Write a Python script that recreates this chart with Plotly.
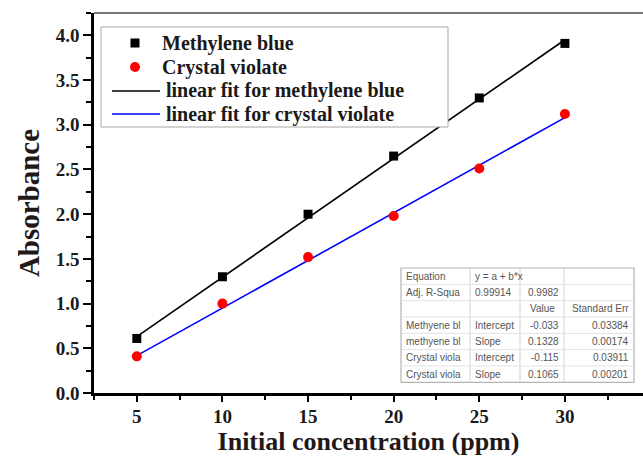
import plotly.graph_objects as go

# Initial dye concentration (ppm)
concentration = [5, 10, 15, 20, 25, 30]

# Measured absorbance
methylene_blue = [0.61, 1.30, 2.00, 2.65, 3.30, 3.91]
crystal_violate = [0.41, 1.00, 1.52, 1.98, 2.51, 3.12]

# Linear fit parameters (y = a + b*x)
mb_intercept, mb_slope = -0.033, 0.1328
cv_intercept, cv_slope = -0.115, 0.1065

# Legend entries
legend_names = ["Methylene blue", "Crystal violate",
                "linear fit for methylene blue", "linear fit for crystal violate"]

# Fit statistics table, one list per column
col_label = ["Equation", "Adj. R-Squa", "", "Methyene bl", "methyene bl", "Crystal viola", "Crystal viola"]
col_param = ["y = a + b*x", "0.99914", "", "Intercept", "Slope", "Intercept", "Slope"]
col_value = ["", "0.9982", "Value", "-0.033", "0.1328", "-0.115", "0.1065"]
col_error = ["", "", "Standard Err", "0.03384", "0.00174", "0.03911", "0.00201"]

fit_x = [concentration[0], concentration[-1]]
mb_fit = [mb_intercept + mb_slope * x for x in fit_x]
cv_fit = [cv_intercept + cv_slope * x for x in fit_x]

serif = "Liberation Serif"
MB_COLOR, CV_COLOR, CV_LINE = "black", "#ff0000", "#0000ff"

fig = go.Figure()
fig.add_trace(go.Scatter(
    x=fit_x, y=mb_fit, mode="lines", name=legend_names[2],
    line=dict(color=MB_COLOR, width=1.6)))
fig.add_trace(go.Scatter(
    x=fit_x, y=cv_fit, mode="lines", name=legend_names[3],
    line=dict(color=CV_LINE, width=1.6)))
fig.add_trace(go.Scatter(
    x=concentration, y=methylene_blue, mode="markers", name=legend_names[0],
    marker=dict(symbol="square", size=9, color=MB_COLOR)))
fig.add_trace(go.Scatter(
    x=concentration, y=crystal_violate, mode="markers", name=legend_names[1],
    marker=dict(symbol="circle", size=10, color=CV_COLOR)))

# --- helpers: pixel position inside the plot area -> paper coordinates ---
plot_left, plot_right, plot_top, plot_bottom = 94, 643, 13, 393
def px_x(p):
    return (p - plot_left) / (plot_right - plot_left)
def px_y(p):
    return (plot_bottom - p) / (plot_bottom - plot_top)

def paper_shape(**kw):
    return dict(xref="paper", yref="paper", **kw)

# Top frame line
shapes = [paper_shape(type="line", x0=0, x1=1, y0=1, y1=1,
                      line=dict(color="#4a4a4a", width=1.5))]
annotations = []

# --- legend box ---
legend_box = (101, 448, 27, 127)
legend_rows = [43, 67, 91, 114]
shapes.append(paper_shape(type="rect", x0=px_x(legend_box[0]), x1=px_x(legend_box[1]),
                          y0=px_y(legend_box[2]), y1=px_y(legend_box[3]),
                          fillcolor="white", line=dict(color="#a8a8a8", width=1), layer="above"))
# symbols
yc = legend_rows[0]
shapes.append(paper_shape(type="rect", x0=px_x(130.5), x1=px_x(139.5), y0=px_y(yc - 4.5), y1=px_y(yc + 4.5),
                          fillcolor=MB_COLOR, line=dict(width=0), layer="above"))
yc = legend_rows[1]
shapes.append(paper_shape(type="circle", x0=px_x(130), x1=px_x(140), y0=px_y(yc - 5), y1=px_y(yc + 5),
                          fillcolor=CV_COLOR, line=dict(width=0), layer="above"))
for yc, col in zip(legend_rows[2:], [MB_COLOR, CV_LINE]):
    shapes.append(paper_shape(type="line", x0=px_x(112), x1=px_x(160), y0=px_y(yc), y1=px_y(yc),
                              line=dict(color=col, width=1.6), layer="above"))
for i, (name, yc) in enumerate(zip(legend_names, legend_rows)):
    annotations.append(dict(
        xref="paper", yref="paper", x=px_x(160 if i < 2 else 164), y=px_y(yc),
        xanchor="left", yanchor="middle", text=name, showarrow=False,
        font=dict(family=serif, size=20, color="#1a1a1a", weight="bold")))

# --- statistics table ---
col_edges = [401, 470, 520, 564, 634]
table_top, row_h = 268, 16.33
columns = [col_label, col_param, col_value, col_error]
col_align = ["left", "left", "right", "right"]
n_rows = len(col_label)
table_bottom = table_top + n_rows * row_h

shapes.append(paper_shape(type="rect", x0=px_x(col_edges[0]), x1=px_x(col_edges[-1]),
                          y0=px_y(table_top), y1=px_y(table_bottom),
                          fillcolor="white", line=dict(color="#b4b4b4", width=1.2), layer="above"))
for e in col_edges[1:-1]:
    shapes.append(paper_shape(type="line", x0=px_x(e), x1=px_x(e),
                              y0=px_y(table_top), y1=px_y(table_bottom),
                              line=dict(color="#d2d2d2", width=1), layer="above"))
for r in range(1, n_rows):
    shapes.append(paper_shape(type="line", x0=px_x(col_edges[0]), x1=px_x(col_edges[-1]),
                              y0=px_y(table_top + r * row_h), y1=px_y(table_top + r * row_h),
                              line=dict(color="#e2e2e2", width=1), layer="above"))

for c, values in enumerate(columns):
    for r, text in enumerate(values):
        if not text:
            continue
        align = "center" if text == "Value" else col_align[c]
        if align == "left":
            xp = col_edges[c] + 3
        elif align == "right":
            xp = col_edges[c + 1] - 3
        else:
            xp = (col_edges[c] + col_edges[c + 1]) / 2
        annotations.append(dict(
            xref="paper", yref="paper", x=px_x(xp), y=px_y(table_top + (r + 0.5) * row_h),
            xanchor=align, yanchor="middle", text=text, showarrow=False,
            font=dict(family="Liberation Sans", size=10, color="#555555")))

axis_title_font = dict(family=serif, size=29, color="#231818", weight="bold")
tick_font = dict(family=serif, size=19, color="#1a1a1a", weight="bold")

fig.update_layout(
    width=643, height=462,
    margin=dict(l=94, r=0, t=13, b=69),
    paper_bgcolor="white", plot_bgcolor="white",
    showlegend=False,
    xaxis=dict(
        range=[2.5, 34.56], showgrid=False, zeroline=False,
        showline=True, linecolor="black", linewidth=2.5, mirror=False,
        tickvals=concentration, ticks="outside", ticklen=6, tickwidth=2,
        tickcolor="black", tickfont=tick_font, ticklabelstandoff=-2,
        minor=dict(dtick=2.5, tick0=2.5, ticks="outside", ticklen=4, tickwidth=1.5, tickcolor="black"),
        title=dict(text="Initial concentration (ppm)", font=dict(axis_title_font, size=26), standoff=6)),
    yaxis=dict(
        range=[0, 4.25], showgrid=False, zeroline=False,
        showline=True, linecolor="black", linewidth=2.5, mirror=False,
        dtick=0.5, tick0=0, tickformat=".1f", ticks="outside", ticklen=8, tickwidth=2,
        tickcolor="black", tickfont=tick_font,
        minor=dict(dtick=0.25, ticks="outside", ticklen=5, tickwidth=1.5, tickcolor="black"),
        title=dict(text="Absorbance", font=axis_title_font, standoff=8)),
    shapes=shapes,
    annotations=annotations,
)

fig.write_html("out.html")
